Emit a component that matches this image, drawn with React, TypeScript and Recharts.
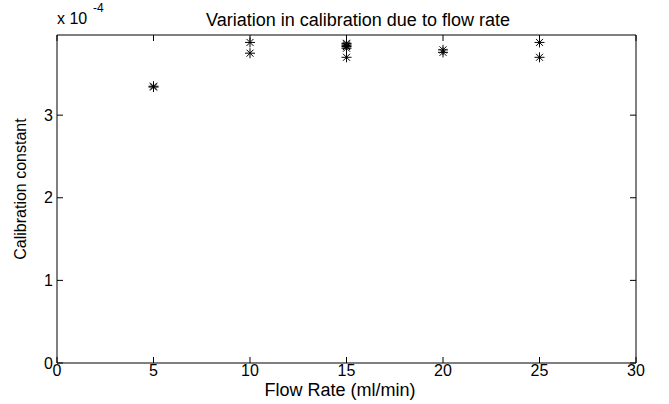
import React from "react";
import { ScatterChart, Scatter, XAxis, YAxis } from "recharts";

// flow rates (ml/min) and measured calibration constants (x 1e-4)
const flowRates = [5, 10, 15, 20, 25];
const calAt5 = [3.34, 3.35];
const calAt10 = [3.88, 3.75];
const calAt15 = [3.87, 3.86, 3.84, 3.83, 3.81, 3.7];
const calAt20 = [3.79, 3.76];
const calAt25 = [3.88, 3.7];

const xTicks = [0, 5, 10, 15, 20, 25, 30];
const yTicks = [0, 1, 2, 3];

const groups = [calAt5, calAt10, calAt15, calAt20, calAt25];
const points = flowRates.flatMap((rate, i) =>
  groups[i].map((v) => ({ rate, cal: v }))
);

const font = '"Liberation Sans", Arial, sans-serif';

const Asterisk = (props: any) => {
  const { cx, cy } = props;
  const r = 5;
  const d = 3.5;
  return (
    <g stroke="#000" strokeWidth={1}>
      <line x1={cx - r} y1={cy} x2={cx + r} y2={cy} />
      <line x1={cx} y1={cy - r} x2={cx} y2={cy + r} />
      <line x1={cx - d} y1={cy - d} x2={cx + d} y2={cy + d} />
      <line x1={cx - d} y1={cy + d} x2={cx + d} y2={cy - d} />
    </g>
  );
};

const NoMark = () => <g />;

const App = () => {
  const tickStyle = { fill: "#000", fontSize: 16, fontFamily: font };
  return (
    <div
      style={{
        position: "absolute",
        left: 0,
        top: 0,
        width: 669,
        height: 404,
        background: "#fff",
        fontFamily: font,
        color: "#000",
      }}
    >
      <ScatterChart
        width={669}
        height={404}
        margin={{ top: 0, right: 0, left: 0, bottom: 0 }}
      >
        <XAxis
          xAxisId="main"
          type="number"
          dataKey="rate"
          domain={[0, 30]}
          ticks={xTicks}
          allowDataOverflow
          height={41}
          stroke="#000"
          tickSize={-6}
          tickMargin={8}
          tick={tickStyle}
        />
        <XAxis
          xAxisId="top"
          orientation="top"
          type="number"
          dataKey="rate"
          domain={[0, 30]}
          ticks={xTicks}
          allowDataOverflow
          height={35}
          tick={NoMark}
          tickSize={-6}
          stroke="#000"
        />
        <YAxis
          yAxisId="main"
          type="number"
          dataKey="cal"
          domain={[0, 3.97]}
          ticks={yTicks}
          allowDataOverflow
          width={57}
          stroke="#000"
          tickSize={-6}
          tickMargin={10}
          tick={tickStyle}
        />
        <YAxis
          yAxisId="right"
          orientation="right"
          type="number"
          dataKey="cal"
          domain={[0, 3.97]}
          ticks={yTicks}
          allowDataOverflow
          width={33}
          tick={NoMark}
          tickSize={-6}
          stroke="#000"
        />
        {/* invisible series so the frame axes get a scale */}
        <Scatter
          xAxisId="top"
          yAxisId="right"
          data={points}
          shape={NoMark}
          isAnimationActive={false}
        />
        <Scatter
          xAxisId="main"
          yAxisId="main"
          data={points}
          shape={Asterisk}
          isAnimationActive={false}
        />
      </ScatterChart>

      <div
        style={{
          position: "absolute",
          left: 358,
          top: 11,
          transform: "translateX(-50%)",
          fontSize: 18,
          lineHeight: "18px",
          whiteSpace: "nowrap",
        }}
      >
        Variation in calibration due to flow rate
      </div>
      <div
        style={{
          position: "absolute",
          left: 57,
          top: 11,
          fontSize: 16,
          lineHeight: "16px",
          whiteSpace: "nowrap",
        }}
      >
        x 10
      </div>
      <div
        style={{
          position: "absolute",
          left: 93,
          top: 2,
          fontSize: 12,
          lineHeight: "12px",
          whiteSpace: "nowrap",
        }}
      >
        -4
      </div>
      <div
        style={{
          position: "absolute",
          left: 340,
          top: 381,
          transform: "translateX(-50%)",
          fontSize: 18,
          lineHeight: "18px",
          whiteSpace: "nowrap",
        }}
      >
        Flow Rate (ml/min)
      </div>
      <div
        style={{
          position: "absolute",
          left: 21,
          top: 189,
          transform: "translate(-50%, -50%) rotate(-90deg)",
          fontSize: 16,
          lineHeight: "16px",
          whiteSpace: "nowrap",
        }}
      >
        Calibration constant
      </div>
    </div>
  );
};

export default App;
